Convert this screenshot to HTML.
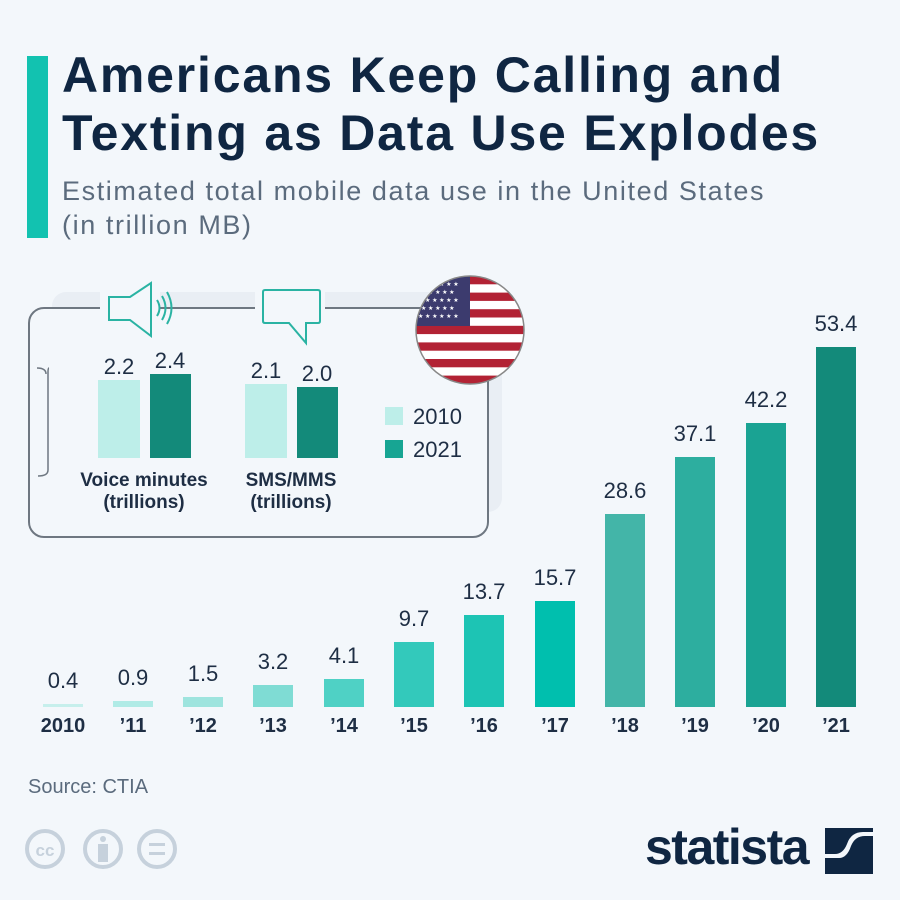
<!DOCTYPE html>
<html><head><meta charset="utf-8"><style>
body{margin:0;width:900px;height:900px;background:#f3f7fb;font-family:"Liberation Sans","DejaVu Sans",sans-serif;overflow:hidden;position:relative}
.a{position:absolute}
.t{left:62px;top:46px;font-size:50px;font-weight:bold;color:#0f2642;line-height:58px;letter-spacing:1.8px;white-space:nowrap}
.s{left:62px;top:174px;font-size:27px;color:#5b6b7d;line-height:34px;letter-spacing:1.6px;white-space:nowrap}
.v{font-size:22px;color:#1e2e44;text-align:center;width:80px}
.y{font-size:20px;font-weight:bold;color:#1e2e44;text-align:center;width:80px;top:715px}
</style></head><body>
<div class="a" style="left:27px;top:56px;width:21px;height:182px;background:#12c2b0"></div>
<div class="a t">Americans Keep Calling and<br>Texting as Data Use Explodes</div>
<div class="a s">Estimated total mobile data use in the United States<br>(in trillion MB)</div>

<div class="a" style="left:52px;top:292px;width:450px;height:220px;background:#e9eef4;border-radius:14px"></div>
<div class="a" style="left:28px;top:307px;width:457px;height:227px;border:2px solid #6e7781;border-radius:16px;background:#f3f7fb"></div>
<svg class="a" style="left:0;top:0" width="900" height="900">
<rect x="100" y="290" width="60" height="30" fill="#f3f7fb"/>
<rect x="255" y="290" width="70" height="30" fill="#f3f7fb"/>
<path d="M49,368 Q48,368 48,372 L48,470 Q48,476 38,476" fill="none" stroke="#6e7781" stroke-width="1.5"/>
<path d="M37,368 Q46,368 46,374" fill="none" stroke="#6e7781" stroke-width="1.5"/>
<g fill="none" stroke="#2ab3a3" stroke-width="2">
<path d="M109,297 L130,297 L151,283 L151,336 L130,320 L109,320 Z"/>
<path d="M157,300 Q162,308 157,316 M162,296 Q169,308 162,320 M167,292 Q176,308 167,324"/>
<path d="M265,290 L318,290 Q320,290 320,292 L320,321 Q320,323 318,323 L306,323 L306,343 L289,323 L265,323 Q263,323 263,321 L263,292 Q263,290 265,290 Z"/>
</g>
<defs><clipPath id="c"><circle cx="470" cy="330" r="54"/></clipPath></defs>
<g clip-path="url(#c)">
<rect x="410" y="270" width="120" height="120" fill="#fff"/>
<g fill="#b22234">
<rect x="410" y="276" width="120" height="8.3"/><rect x="410" y="292.6" width="120" height="8.3"/><rect x="410" y="309.2" width="120" height="8.3"/><rect x="410" y="325.8" width="120" height="8.3"/><rect x="410" y="342.4" width="120" height="8.3"/><rect x="410" y="359" width="120" height="8.3"/><rect x="410" y="375.6" width="120" height="8.3"/>
</g>
<rect x="410" y="270" width="60" height="56" fill="#3c3b6e"/>
<g fill="#fff" font-size="6">
<text x="418" y="286">★ ★ ★ ★ ★ ★</text><text x="421" y="294">★ ★ ★ ★ ★</text><text x="418" y="302">★ ★ ★ ★ ★ ★</text><text x="421" y="310">★ ★ ★ ★ ★</text><text x="418" y="318">★ ★ ★ ★ ★ ★</text>
</g>
</g>
<circle cx="470" cy="330" r="54" fill="none" stroke="#888" stroke-width="1.5"/>
<rect x="98" y="380" width="42" height="78" fill="#bdeee9"/>
<rect x="150" y="374" width="41" height="84" fill="#138a7a"/>
<rect x="245" y="384" width="42" height="74" fill="#bdeee9"/>
<rect x="297" y="387" width="41" height="71" fill="#138a7a"/>
<rect x="385" y="407" width="18" height="18" fill="#bdeee9"/>
<rect x="385" y="440" width="18" height="18" fill="#17a593"/>
<g font-family="Liberation Sans,sans-serif" fill="#1e2e44" font-size="22" text-anchor="middle">
<text x="119" y="374">2.2</text><text x="170" y="368">2.4</text><text x="266" y="378">2.1</text><text x="317" y="381">2.0</text>
<text x="413" y="424" text-anchor="start">2010</text><text x="413" y="457" text-anchor="start">2021</text>
<g font-size="19" font-weight="bold"><text x="144" y="486">Voice minutes</text><text x="144" y="508">(trillions)</text><text x="291" y="486">SMS/MMS</text><text x="291" y="508">(trillions)</text></g>
</g>
</svg>
<div id="b"></div>
<div class="a" style="left:28px;top:776px;font-size:20px;color:#5b6b7d">Source: CTIA</div>
<svg class="a" style="left:25px;top:827px" width="160" height="46" fill="none" stroke="#c6d1dc" stroke-width="4">
<circle cx="20" cy="22" r="18"/><circle cx="78" cy="22" r="18"/><circle cx="132" cy="22" r="18"/>
<text x="20" y="29" font-size="17" font-weight="bold" fill="#c6d1dc" stroke="none" text-anchor="middle" font-family="Liberation Sans">cc</text>
<circle cx="78" cy="12" r="3" fill="#c6d1dc" stroke="none"/><rect x="73" y="17" width="10" height="18" fill="#c6d1dc" stroke="none"/>
<rect x="124" y="16" width="16" height="3" fill="#c6d1dc" stroke="none"/><rect x="124" y="25" width="16" height="3" fill="#c6d1dc" stroke="none"/>
</svg>
<div class="a" style="left:645px;top:818px;font-size:50px;font-weight:bold;color:#0f2642;letter-spacing:-1.5px">statista</div>
<svg class="a" style="left:825px;top:828px" width="48" height="46"><rect width="48" height="46" fill="#0f2642"/><path d="M0,30 L14,30 Q22,30 26,18 Q30,8 40,8 L48,8 L48,4 L38,4 Q26,4 22,16 Q18,26 10,26 L0,26Z" fill="#f3f7fb"/></svg>
<script>
var d=[["2010",0.4,63,"#c6efec"],["’11",0.9,133,"#b0ebe6"],["’12",1.5,203,"#9ee4de"],["’13",3.2,273,"#7fdcd4"],["’14",4.1,344,"#4fd1c5"],["’15",9.7,414,"#33c9bb"],["’16",13.7,484,"#1dc4b4"],["’17",15.7,555,"#00bfae"],["’18",28.6,625,"#43b5a8"],["’19",37.1,695,"#2dae9f"],["’20",42.2,766,"#1aa393"],["’21",53.4,836,"#138a7a"]];
var h="";d.forEach(function(r){var hh=Math.max(3,r[1]*6.74),top=707-hh;
h+='<div class="a" style="left:'+(r[2]-20)+'px;top:'+top+'px;width:40px;height:'+hh+'px;background:'+r[3]+'"></div>';
h+='<div class="a v" style="left:'+(r[2]-40)+'px;top:'+(top-36)+'px">'+r[1].toFixed(1)+'</div>';
h+='<div class="a y" style="left:'+(r[2]-40)+'px">'+r[0]+'</div>';});
document.getElementById("b").innerHTML=h;
</script>
</body></html>
